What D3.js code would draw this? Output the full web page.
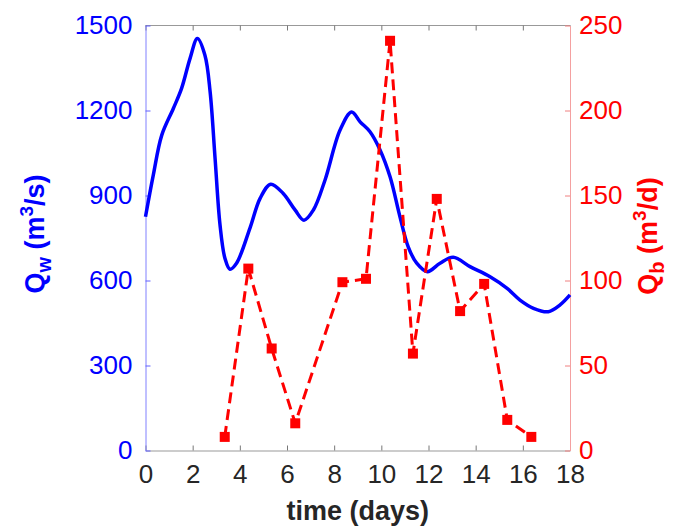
<!DOCTYPE html>
<html>
<head>
<meta charset="utf-8">
<script src="https://cdn.jsdelivr.net/npm/d3@7"></script>
<style>
  body { margin: 0; background: #fff; }
  svg { font-family: "Liberation Sans", Arial, sans-serif; }
</style>
</head>
<body>
<svg id="chart"></svg>
<script>
// Water discharge (blue, left axis)
const flowDays = [0, 0.33, 0.69, 1.18, 1.53, 1.89, 2.2, 2.52, 2.74, 2.95, 3.16, 3.37, 3.58, 3.86, 4.43, 4.86, 5.31, 5.84, 6.34, 6.72, 7.12, 7.61, 8.25, 8.74, 9.1, 9.52, 9.95, 10.37, 10.79, 11.14, 11.5, 11.95, 12.49, 13.05, 13.76, 14.61, 15.32, 15.88, 16.45, 17.08, 17.58, 18];
const flowQw = [825, 972, 1113, 1207, 1278, 1384, 1454, 1395, 1266, 1031, 796, 678, 640, 661, 785, 890, 940, 907, 849, 813, 849, 954, 1131, 1195, 1160, 1125, 1060, 966, 825, 719, 661, 631, 661, 682, 649, 613, 573, 531, 502, 490, 514, 549];

// Bedload discharge (red, right axis)
const bedDays = [3.36, 4.36, 5.35, 6.35, 8.35, 9.35, 10.37, 11.34, 12.35, 13.34, 14.36, 15.34, 16.36];
const bedQb = [8, 107, 60, 16, 99, 101, 241, 57, 148, 82, 98, 18, 8];

const xTicks = [0, 2, 4, 6, 8, 10, 12, 14, 16, 18];
const leftTicks = [0, 300, 600, 900, 1200, 1500];
const rightTicks = [0, 50, 100, 150, 200, 250];

const width = 696, height = 530;
const plot = { left: 145.5, right: 570, top: 25.5, bottom: 450.5 };

const svg = d3.select("#chart").attr("width", width).attr("height", height);

const x = d3.scaleLinear().domain([0, 18]).range([plot.left, plot.right]);
const yL = d3.scaleLinear().domain([0, 1500]).range([plot.bottom, plot.top]);
const yR = d3.scaleLinear().domain([0, 250]).range([plot.bottom, plot.top]);

const blue = "#0000ff", red = "#ff0000";

// top border
svg.append("line")
  .attr("x1", plot.left).attr("x2", plot.right)
  .attr("y1", plot.top).attr("y2", plot.top)
  .attr("stroke", "#999").attr("stroke-width", 1);

// bottom axis
const xAxis = svg.append("g")
  .attr("transform", `translate(0,${plot.bottom})`)
  .call(d3.axisBottom(x).tickValues(xTicks).tickFormat(d3.format("d"))
    .tickSize(-5).tickSizeOuter(0).tickPadding(14));
xAxis.select(".domain").attr("stroke", "#999");
xAxis.selectAll(".tick line").attr("stroke", "#777");
xAxis.selectAll(".tick text").attr("fill", "#262626").style("font-size", "26px");

// top ticks
svg.append("g")
  .attr("transform", `translate(0,${plot.top})`)
  .call(d3.axisTop(x).tickValues(xTicks).tickSize(-5).tickSizeOuter(0).tickFormat(""))
  .call(g => g.select(".domain").remove())
  .selectAll(".tick line").attr("stroke", "#777");

// left axis
const leftAxis = svg.append("g")
  .attr("transform", `translate(${plot.left},0)`)
  .call(d3.axisLeft(yL).tickValues(leftTicks).tickFormat(d3.format("d"))
    .tickSize(-5).tickSizeOuter(0).tickPadding(13));
leftAxis.select(".domain").attr("stroke", "#8080ff");
leftAxis.selectAll(".tick line").attr("stroke", "#6060ff");
leftAxis.selectAll(".tick text").attr("fill", blue).style("font-size", "26px");

// right axis
const rightAxis = svg.append("g")
  .attr("transform", `translate(${plot.right},0)`)
  .call(d3.axisRight(yR).tickValues(rightTicks).tickFormat(d3.format("d"))
    .tickSize(-5).tickSizeOuter(0).tickPadding(9));
rightAxis.select(".domain").attr("stroke", "#f4a0a0");
rightAxis.selectAll(".tick line").attr("stroke", "#f08080");
rightAxis.selectAll(".tick text").attr("fill", red).style("font-size", "26px");

// blue flow line
const flowLine = d3.line()
  .x((d, i) => x(flowDays[i]))
  .y(d => yL(d))
  .curve(d3.curveCatmullRom.alpha(0.5));
svg.append("path")
  .attr("d", flowLine(flowQw))
  .attr("fill", "none")
  .attr("stroke", blue)
  .attr("stroke-width", 3.5);

// red dashed bedload line
const bedLine = d3.line()
  .x((d, i) => x(bedDays[i]))
  .y(d => yR(d));
svg.append("path")
  .attr("d", bedLine(bedQb))
  .attr("fill", "none")
  .attr("stroke", red)
  .attr("stroke-width", 3)
  .attr("stroke-dasharray", "11,6");

svg.selectAll(".marker")
  .data(bedQb)
  .join("rect")
  .attr("class", "marker")
  .attr("x", (d, i) => x(bedDays[i]) - 5)
  .attr("y", d => yR(d) - 5)
  .attr("width", 10)
  .attr("height", 10)
  .attr("fill", red);

// axis titles
svg.append("text")
  .attr("x", (plot.left + plot.right) / 2)
  .attr("y", 520)
  .attr("text-anchor", "middle")
  .attr("fill", "#262626")
  .style("font-size", "27px")
  .style("font-weight", "bold")
  .text("time (days)");

function axisTitle(tx, ty, color, sub, unit) {
  const t = svg.append("text")
    .attr("transform", `translate(${tx},${ty}) rotate(-90)`)
    .attr("text-anchor", "middle")
    .attr("fill", color)
    .style("font-size", "27px")
    .style("font-weight", "bold");
  t.append("tspan").text("Q");
  t.append("tspan").attr("dy", 7).style("font-size", "20px").text(sub);
  t.append("tspan").attr("dy", -7).text(" (m");
  t.append("tspan").attr("dy", -11).style("font-size", "19px").text("3");
  t.append("tspan").attr("dy", 11).text(unit + ")");
}
axisTitle(44, 234, blue, "w", "/s");
axisTitle(657, 236, red, "b", "/d");
</script>
</body>
</html>
